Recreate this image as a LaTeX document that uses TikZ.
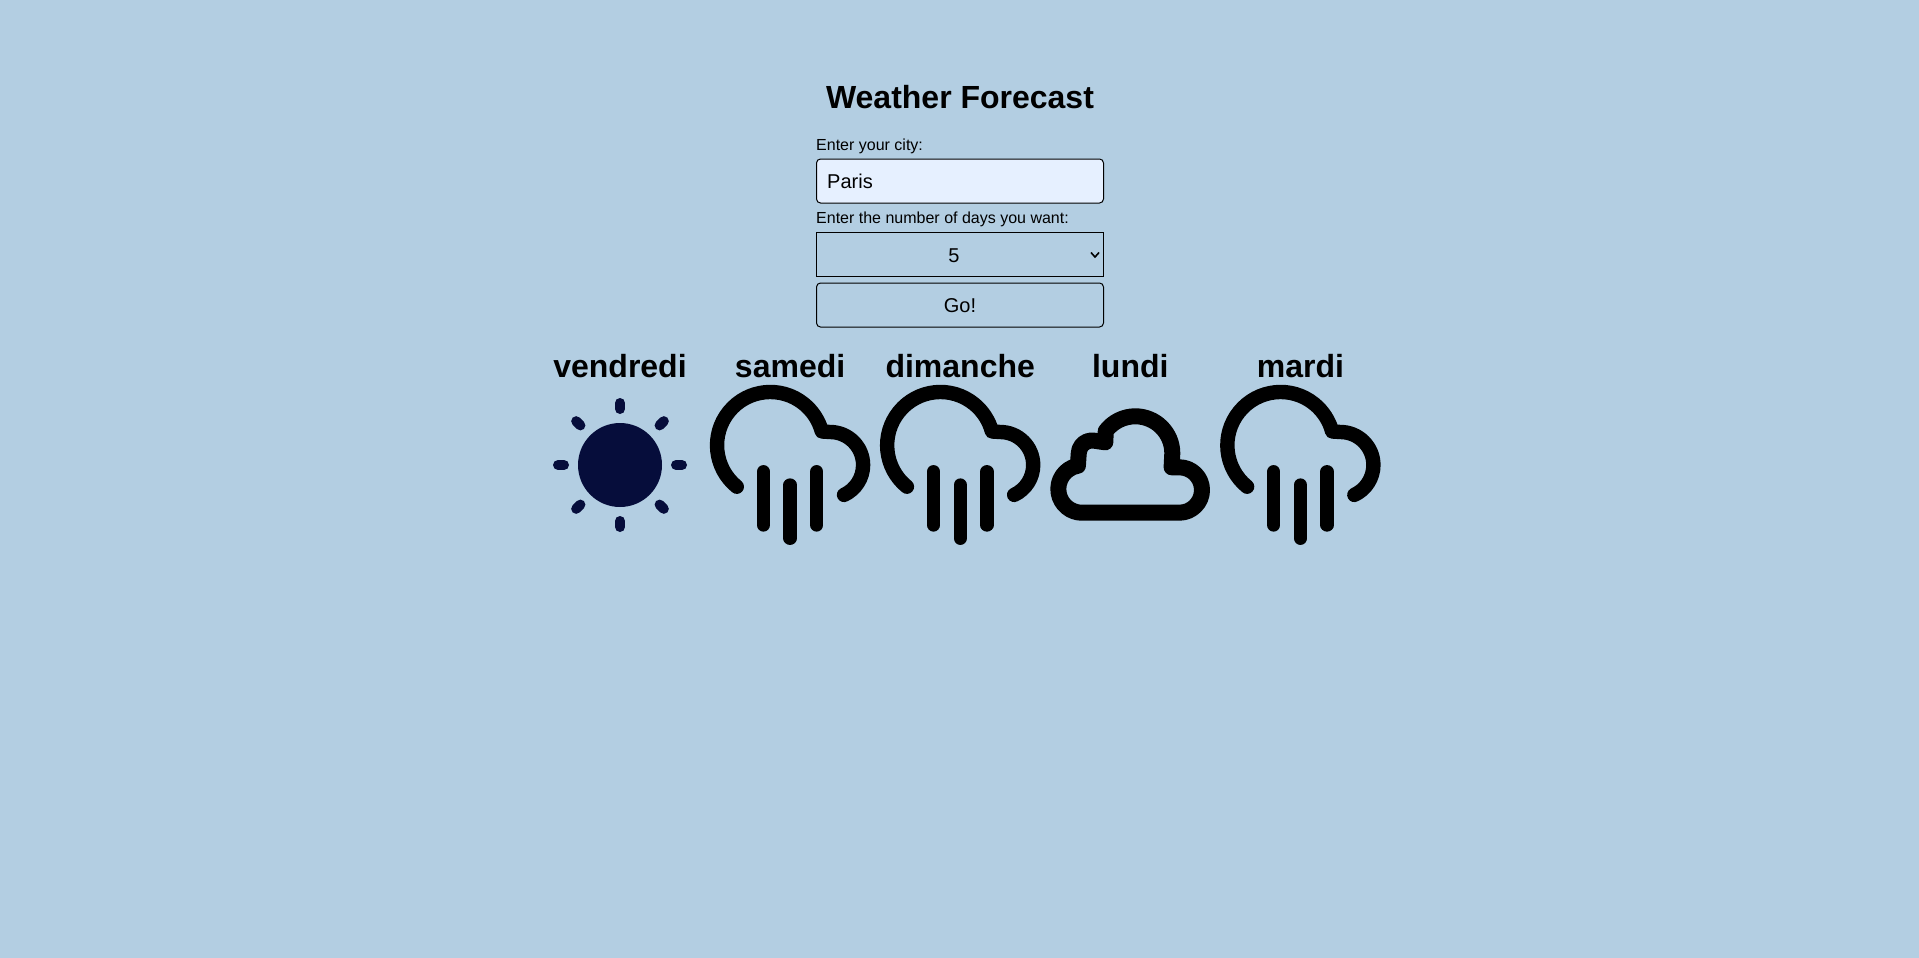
\documentclass[tikz,border=0pt]{standalone}
\usepackage{fontspec}
\setmainfont{Liberation Sans}
\usetikzlibrary{positioning}
\definecolor{pagecolor}{HTML}{B3CEE2}
\definecolor{inputcolor}{HTML}{E6F0FF}
\definecolor{suncolor}{HTML}{060D3B}

\begin{document}
\begin{tikzpicture}[
    x=1pt, y=-1pt,
    titlenode/.style={inner sep=0pt, anchor=base, font=\bfseries\fontsize{32}{38}\selectfont},
    labelnode/.style={inner sep=0pt, anchor=base west, font=\fontsize{16}{19}\selectfont},
    fieldtext/.style={inner sep=0pt, anchor=base, font=\fontsize{20}{24}\selectfont},
    fieldnode/.style={draw=black, line width=1pt, minimum width=287pt, minimum height=44pt, inner sep=0pt},
    daynode/.style={inner sep=0pt, minimum width=169.7pt, font=\bfseries\fontsize{32}{38}\selectfont},
    iconline/.style={draw=black, line cap=round, line join=round},
    sunray/.style={draw=suncolor, line width=10pt, line cap=round},
    pics/rainicon/.style={code={
        \draw[iconline, line width=14.4pt] (-53.3,21.7) arc (231:15:53.3pt) -- (40,-33) arc (90:-65:33pt);
        \draw[iconline, line width=13.3pt] (-26.7,6.7) -- (-26.7,60);
        \draw[iconline, line width=13.3pt] (0,20) -- (0,73.3);
        \draw[iconline, line width=13.3pt] (26.7,6.7) -- (26.7,60);
    }},
    pics/cloudicon/.style={code={
        \draw[iconline, line width=16pt] (-48.3,47.7) -- (49,47.7) arc (-90:90:22.7pt) -- (41.3,2.3) -- (42,-11.7)
            arc (0:143:37pt) -- (-25,-22.7) -- (-36,-24.3) arc (80:180:13.3pt) -- (-52.4,0.7)
            arc (100:270:23.7pt) -- cycle;
    }},
    pics/sunicon/.style={code={
        \fill[suncolor] (0,0) circle (42pt);
        \foreach \angle in {0,45,...,315}
            \draw[sunray] (\angle:56pt) -- (\angle:62pt);
    }}
    ]
    %Page
    \fill[pagecolor] (0,0) rectangle (1919,958);
    \useasboundingbox (0,0) rectangle (1919,958);

    %Form
    \node[titlenode]    (title)         at (960,108)    {Weather Forecast};
    \node[labelnode]    (city_label)    at (816,150)    {Enter your city:};
    \node[fieldnode, fill=inputcolor, rounded corners=4pt]  (city_box)  at (960,181) {};
    \node[fieldtext, anchor=base west]  (city_value)    at (827,188)    {Paris};
    \node[labelnode]    (days_label)    at (816,223)    {Enter the number of days you want:};
    \node[fieldnode]    (days_box)      at (960,254.5)  {};
    \node[fieldtext]    (days_value)    at (954,262)    {5};
    \draw[black, line width=1.6pt]  (1091,252.5) -- (1095,257) -- (1099,252.5);
    \node[fieldnode, rounded corners=4pt]   (go_box)    at (960,305)    {};
    \node[fieldtext]    (go_value)      at (960,312)    {Go!};

    %Days
    \node[daynode, anchor=base] (day_first)     at (620,377)            {vendredi};
    \node[daynode]              (day_second)    [right=0pt of day_first]  {samedi};
    \node[daynode]              (day_third)     [right=0pt of day_second] {dimanche};
    \node[daynode]              (day_fourth)    [right=0pt of day_third]  {lundi};
    \node[daynode]              (day_fifth)     [right=0pt of day_fourth] {mardi};

    %Icons
    \pic at (day_first |- 0,465)    {sunicon};
    \pic at (day_second |- 0,465)   {rainicon};
    \pic at (day_third |- 0,465)    {rainicon};
    \pic at (day_fourth |- 0,465)   {cloudicon};
    \pic at (day_fifth |- 0,465)    {rainicon};

\end{tikzpicture}
\end{document}
